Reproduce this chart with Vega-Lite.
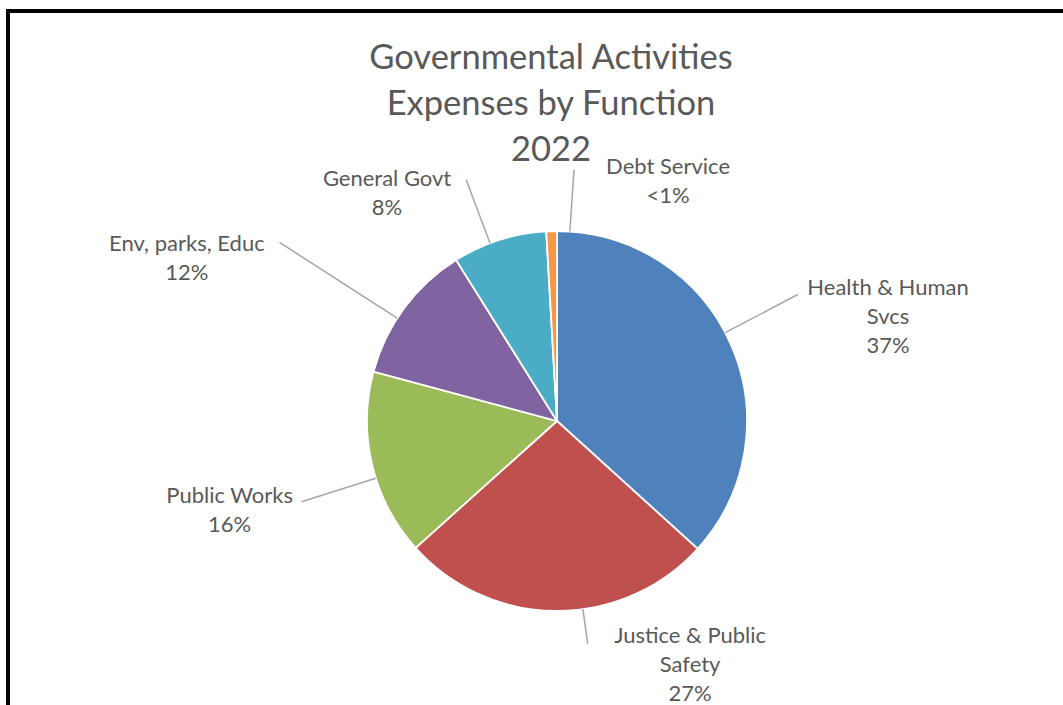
{
  "$schema": "https://vega.github.io/schema/vega-lite/v6.json",
  "autosize": {"type": "none"},
  "width": 1098,
  "height": 820,
  "padding": {"left": 8, "top": 11, "right": -43, "bottom": -126},
  "background": "white",
  "view": {"stroke": "black", "strokeWidth": 4, "fill": "white"},
  "title": {
    "text": ["Governmental Activities", "Expenses by Function", "2022"],
    "font": "Lato",
    "fontSize": 34.5,
    "fontWeight": "normal",
    "color": "#595959",
    "lineHeight": 46,
    "anchor": "middle",
    "frame": "group",
    "baseline": "alphabetic",
    "offset": -184,
    "dx": -6
  },
  "data": {
    "values": [
      {"category": "Health & Human Svcs", "value": 36.7, "label": "Health & Human\nSvcs\n37%"},
      {"category": "Justice & Public Safety", "value": 26.6, "label": "Justice & Public\nSafety\n27%"},
      {"category": "Public Works", "value": 15.8, "label": "Public Works\n16%"},
      {"category": "Env, parks, Educ", "value": 11.9, "label": "Env, parks, Educ\n12%"},
      {"category": "General Govt", "value": 8.0, "label": "General Govt\n8%"},
      {"category": "Debt Service", "value": 0.9, "label": "Debt Service\n<1%"}
    ]
  },
  "encoding": {
    "theta": {"field": "value", "type": "quantitative", "stack": true},
    "order": {"field": "value", "type": "quantitative", "sort": "descending"}
  },
  "layer": [
    {
      "mark": {"type": "arc", "radius": 190, "stroke": "white", "strokeWidth": 1.8},
      "encoding": {
        "color": {
          "field": "category",
          "type": "nominal",
          "legend": null,
          "scale": {
            "domain": ["Health & Human Svcs", "Justice & Public Safety", "Public Works", "Env, parks, Educ", "General Govt", "Debt Service"],
            "range": ["#4F81BD", "#C0504D", "#9BBB59", "#8064A2", "#4BACC6", "#F79646"]
          }
        }
      }
    },
    {
      "mark": {
        "type": "arc",
        "radius2": 190,
        "radius": {"expr": "datum.category === 'Health & Human Svcs' ? 272 : datum.category === 'Justice & Public Safety' ? 225 : datum.category === 'Public Works' ? 268 : datum.category === 'Env, parks, Educ' ? 330 : datum.category === 'General Govt' ? 258 : 252"},
        "thetaOffset": {"expr": "datum.category === 'Health & Human Svcs' ? -0.067 : datum.category === 'Justice & Public Safety' ? -0.14 : datum.category === 'Public Works' ? -0.072 : datum.category === 'Env, parks, Educ' ? -0.065 : datum.category === 'General Govt' ? -0.052 : 0.096"},
        "theta2Offset": {"expr": "datum.category === 'Health & Human Svcs' ? -0.067 : datum.category === 'Justice & Public Safety' ? -0.14 : datum.category === 'Public Works' ? -0.072 : datum.category === 'Env, parks, Educ' ? -0.065 : datum.category === 'General Govt' ? -0.052 : 0.096"},
        "padAngle": 3,
        "fill": "transparent",
        "stroke": "#A6A6A6",
        "strokeWidth": 1.5
      }
    },
    {
      "mark": {
        "type": "text",
        "radius": 280,
        "dx": {"expr": "datum.category === 'Health & Human Svcs' ? 75 : datum.category === 'Justice & Public Safety' ? 134 : datum.category === 'Public Works' ? -55 : datum.category === 'Env, parks, Educ' ? -145 : datum.category === 'General Govt' ? -85 : 119"},
        "dy": {"expr": "datum.category === 'Health & Human Svcs' ? -20 : datum.category === 'Justice & Public Safety' ? -65 : datum.category === 'Public Works' ? 10 : datum.category === 'Env, parks, Educ' ? -11 : datum.category === 'General Govt' ? 25 : 26"},
        "align": "center",
        "baseline": "middle",
        "lineBreak": "\n",
        "lineHeight": 29,
        "font": "Lato",
        "fontSize": 22,
        "fill": "#595959"
      },
      "encoding": {"text": {"field": "label"}}
    }
  ],
  "config": {
    "view": {"stroke": "black", "strokeWidth": 4},
    "style": {"cell": {"stroke": "black", "strokeWidth": 4}}
  }
}
